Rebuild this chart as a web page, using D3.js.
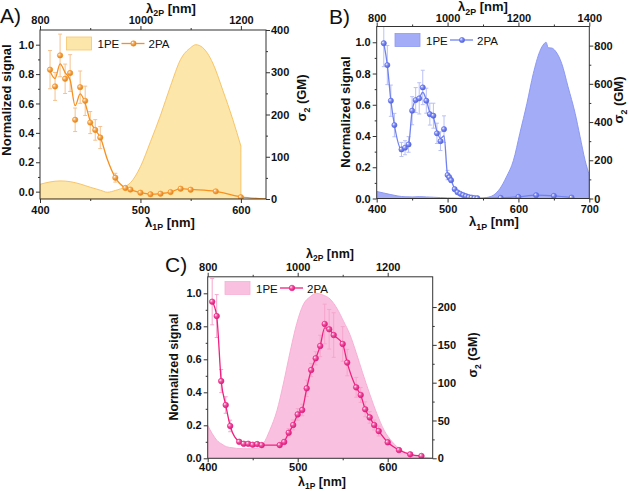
<!DOCTYPE html>
<html><head><meta charset="utf-8">
<script src="https://cdn.jsdelivr.net/npm/d3@7/dist/d3.min.js"></script>
<style>
body{margin:0;background:#fff}
svg{display:block}
text{font-family:"Liberation Sans",Arial,sans-serif;fill:#111}
</style>
</head><body>
<svg id="chart" width="629" height="491"></svg>
<script>
// ---------------- Panel A ----------------
const aPeX  = [400,410,420,430,440,450,460,467,475,485,490,500,510,520,530,540,550,555,562,572,582,592,600];
const aPeY  = [0.05,0.066,0.073,0.068,0.052,0.03,0.01,-0.004,0.008,0.035,0.06,0.17,0.34,0.52,0.72,0.90,0.98,1.0,0.98,0.875,0.69,0.49,0.31];
const a2paX = [410,415,420,425,430,435,440,445,450,455,460,475,485,490,500,510,520,530,540,550,575,600];
const a2paY = [0.83,0.716,0.927,0.768,0.807,0.489,0.711,0.618,0.47,0.42,0.368,0.095,0.025,0.014,-0.007,-0.018,-0.014,-0.003,0.02,0.013,0.002,-0.038];
const a2paErr = [0.13,0.095,0.145,0.1,0.125,0.08,0.11,0.1,0.075,0.07,0.075,0.03,0,0,0,0,0,0,0,0,0,0];
const aFitX = [410,415,420,425,430,435,440,445,450,455,460,467,475,485,490,500,510,520,530,540,550,575,600,625];
const aFitY = [0.82,0.77,0.87,0.81,0.76,0.585,0.665,0.6,0.48,0.42,0.37,0.22,0.095,0.025,0.014,-0.007,-0.017,-0.013,-0.003,0.02,0.015,0.002,-0.035,-0.05];
const aTicksBottom = [400,500,600], aMinorBottom = [450,550];
const aTicksTop = [800,1000,1200], aMinorTop = [900,1100];
const aTicksLeft = [0,0.2,0.4,0.6,0.8,1.0], aMinorLeft = [0.1,0.3,0.5,0.7,0.9];
const aTicksRight = [0,100,200,300,400], aMinorRight = [50,150,250,350];

// ---------------- Panel B ----------------
const bPeX  = [400,410,420,430,440,450,460,470,480,490,500,520,545,555,565,574,583,593,602,612,621,630,636,639,642,647,652,661,670,680,687,694,700];
const bPeY  = [0.045,0.035,0.025,0.016,0.011,0.01,0.012,0.01,0.008,0.006,0.004,0.002,0.0,0.006,0.022,0.064,0.138,0.245,0.417,0.609,0.80,0.94,0.99,1.0,0.965,0.963,0.945,0.865,0.715,0.545,0.395,0.245,0.15];
const b2paX = [410,415,420,425,435,440,445,450,455,460,465,470,475,480,485,490,495,500,502.5,505,510,514,518,522,526,530,534,538,542,575,600,625,650,675];
const b2paY = [0.994,0.854,0.626,0.47,0.314,0.325,0.346,0.562,0.63,0.641,0.711,0.626,0.54,0.53,0.417,0.367,0.444,0.15,0.135,0.117,0.06,0.04,0.03,0.022,0.015,0.009,0.006,0.003,0.002,0.004,0.01,0.021,0.017,0.006];
const b2paErr = [0.15,0.125,0.1,0.075,0.045,0.045,0.05,0.09,0.08,0.1,0.11,0.08,0.07,0.08,0.065,0.06,0.085,0.03,0.015,0.012,0.006,0,0,0,0,0,0,0,0,0,0,0,0,0];
const bFitX = [410,415,420,425,435,440,445,450,455,460,465,470,475,480,485,490,495,500,502.5,505,510,514,518,522,526,530,534,538,542,575,600,625,650,675];
const bFitY = [0.994,0.854,0.626,0.47,0.314,0.325,0.346,0.562,0.63,0.645,0.68,0.63,0.55,0.52,0.43,0.385,0.40,0.15,0.135,0.117,0.06,0.04,0.03,0.022,0.015,0.009,0.006,0.003,0.002,0.004,0.01,0.021,0.017,0.006];
const bTicksBottom = [400,500,600,700], bMinorBottom = [450,550,650];
const bTicksTop = [800,1000,1200,1400], bMinorTop = [900,1100,1300];
const bTicksLeft = [0,0.2,0.4,0.6,0.8,1.0], bMinorLeft = [0.1,0.3,0.5,0.7,0.9];
const bTicksRight = [0,200,400,600,800], bMinorRight = [100,300,500,700];

// ---------------- Panel C ----------------
const cPeX  = [400,405,410,416,421,427,432,440,448,455,462,469,477,484,492,499,506,514,521,528,536,544,551,558,565,572,580,588,596,605,615,625,637,650];
const cPeY  = [0.2,0.15,0.11,0.085,0.07,0.064,0.06,0.058,0.058,0.06,0.09,0.17,0.29,0.45,0.656,0.818,0.929,0.98,1.0,0.99,0.965,0.905,0.83,0.75,0.64,0.52,0.39,0.27,0.17,0.10,0.05,0.025,0.009,0.0];
const c2paX = [405,410,415,420,425,435,440,445,450,455,460,480,485,490,495,500,505,510,515,520,525,530,535,540,550,555,565,570,575,580,585,590,600,612.5,625,637.5];
const c2paY = [0.949,0.862,0.468,0.323,0.196,0.1,0.088,0.088,0.082,0.086,0.08,0.08,0.099,0.155,0.202,0.266,0.293,0.424,0.535,0.606,0.681,0.814,0.782,0.747,0.693,0.58,0.43,0.384,0.297,0.248,0.202,0.165,0.097,0.05,0.024,0.014];
const c2paErr = [0.14,0.13,0.07,0.05,0.035,0.01,0.01,0.01,0.01,0.01,0.01,0.01,0.015,0.025,0.03,0.035,0.035,0.05,0.04,0.04,0.065,0.12,0.12,0.135,0.105,0.08,0.06,0.045,0.045,0.035,0.03,0.03,0.015,0.01,0.005,0.005];
const cFitX = c2paX;
const cFitY = [0.949,0.862,0.468,0.323,0.196,0.1,0.088,0.088,0.082,0.086,0.08,0.08,0.099,0.155,0.202,0.266,0.293,0.424,0.535,0.606,0.681,0.79,0.782,0.747,0.693,0.58,0.43,0.384,0.297,0.248,0.202,0.165,0.097,0.05,0.024,0.014];
const cTicksBottom = [400,500,600], cMinorBottom = [450,550];
const cTicksTop = [800,1000,1200], cMinorTop = [900,1100];
const cTicksLeft = [0,0.2,0.4,0.6,0.8,1.0], cMinorLeft = [0.1,0.3,0.5,0.7,0.9];
const cTicksRight = [0,50,100,150,200], cMinorRight = [25,75,125,175];

const legendLabels = ["1PE", "2PA"];
const panelLetters = ["A)", "B)", "C)"];

// ---------------- drawing ----------------
const svg = d3.select("#chart");
const defs = svg.append("defs");
const zip = (xs, ys) => xs.map((v, i) => [v, ys[i]]);

function makeGrad(id, col) {
  const g = defs.append("radialGradient").attr("id", id).attr("cx", "40%").attr("cy", "40%").attr("r", "60%").attr("fx", "30%").attr("fy", "30%");
  g.append("stop").attr("offset", "0%").attr("stop-color", "#ffffff");
  g.append("stop").attr("offset", "45%").attr("stop-color", d3.interpolateRgb(col, "#fff")(0.25));
  g.append("stop").attr("offset", "100%").attr("stop-color", d3.color(col).darker(0.4));
}

function subText(t, parts, fs) {
  parts.forEach(([s, sub], i) => {
    const ts = t.append("tspan").text(s);
    if (sub) ts.attr("font-size", fs * 0.68).attr("dy", fs * 0.3);
    else if (i > 0 && parts[i - 1][1]) ts.attr("dy", -fs * 0.3);
  });
}

function drawPanel(p) {
  const g = svg.append("g");
  const x = d3.scaleLinear().domain(p.xDom).range([p.L, p.R]);
  const xTop = d3.scaleLinear().domain([p.xDom[0] * 2, p.xDom[1] * 2]).range([p.L, p.R]);
  const y = d3.scaleLinear().domain(p.yDom).range([p.B, p.T]);
  const yR = d3.scaleLinear().domain(p.yRDom).range([p.B, p.T]);
  const clipId = "clip" + p.id;
  defs.append("clipPath").attr("id", clipId).append("rect")
    .attr("x", p.L).attr("y", p.T).attr("width", p.R - p.L).attr("height", p.B - p.T);
  makeGrad("grad" + p.id, p.pointCol);

  const plot = g.append("g").attr("clip-path", `url(#${clipId})`);
  const area = d3.area().x(d => x(d[0])).y0(p.B).y1(d => y(d[1])).curve(d3.curveMonotoneX);
  plot.append("path").datum(zip(p.peX, p.peY)).attr("d", area)
    .attr("fill", p.fillCol).attr("stroke", p.fillStroke).attr("stroke-width", 1);

  const pts = p.sX.map((v, i) => ({x: v, y: p.sY[i], e: p.sE[i]}));
  const eb = plot.append("g").attr("stroke", p.errCol).attr("stroke-width", 1).attr("fill", "none");
  pts.filter(d => d.e > 0).forEach(d => {
    const cx = x(d.x), y1 = y(d.y - d.e), y2 = y(d.y + d.e);
    eb.append("line").attr("x1", cx).attr("x2", cx).attr("y1", y1).attr("y2", y2);
    eb.append("line").attr("x1", cx - 2).attr("x2", cx + 2).attr("y1", y1).attr("y2", y1);
    eb.append("line").attr("x1", cx - 2).attr("x2", cx + 2).attr("y1", y2).attr("y2", y2);
  });
  const line = d3.line().x(d => x(d[0])).y(d => y(d[1])).curve(d3.curveMonotoneX);
  plot.append("path").datum(zip(p.fX, p.fY)).attr("d", line)
    .attr("fill", "none").attr("stroke", p.lineCol).attr("stroke-width", 1.3);
  plot.selectAll("circle.pt").data(pts).join("circle").attr("class", "pt")
    .attr("cx", d => x(d.x)).attr("cy", d => y(d.y)).attr("r", p.r)
    .attr("fill", `url(#grad${p.id})`).attr("stroke", p.pointCol).attr("stroke-width", 0.6);

  const fs = 11;
  function axis(gen, scale, major, minor, tx, ty, pad, fmt) {
    const a = g.append("g").attr("transform", `translate(${tx},${ty})`)
      .call(gen(scale).tickValues(major).tickSize(4).tickPadding(pad).tickFormat(fmt));
    a.select(".domain").remove();
    a.selectAll("line").attr("stroke", "#333");
    a.selectAll("text").attr("font-size", fs).attr("font-weight", "bold").attr("fill", "#111")
      .attr("font-family", '"Liberation Sans",Arial,sans-serif');
    const m = g.append("g").attr("transform", `translate(${tx},${ty})`)
      .call(gen(scale).tickValues(minor).tickSize(2).tickFormat(""));
    m.select(".domain").remove();
    m.selectAll("line").attr("stroke", "#333");
  }
  axis(d3.axisBottom, x, p.tB, p.mB, 0, p.B, p.padB, d3.format("d"));
  axis(d3.axisTop, xTop, p.tT, p.mT, 0, p.T, p.padT, d3.format("d"));
  axis(d3.axisLeft, y, p.tL, p.mL, p.L, 0, 2, d3.format(".1f"));
  axis(d3.axisRight, yR, p.tR, p.mR, p.R, 0, 1, d3.format("d"));
  g.append("rect").attr("x", p.L).attr("y", p.T).attr("width", p.R - p.L).attr("height", p.B - p.T)
    .attr("fill", "none").attr("stroke", "#333").attr("stroke-width", 1);

  const tfs = p.tfs;
  subText(g.append("text").attr("x", p.bTitle[0]).attr("y", p.bTitle[1]).attr("text-anchor", "middle")
    .attr("font-size", tfs).attr("font-weight", "bold"), [["λ", 0], ["1P", 1], [" [nm]", 0]], tfs);
  subText(g.append("text").attr("x", p.tTitle[0]).attr("y", p.tTitle[1]).attr("text-anchor", "middle")
    .attr("font-size", tfs).attr("font-weight", "bold"), [["λ", 0], ["2P", 1], [" [nm]", 0]], tfs);
  g.append("text").attr("transform", `translate(${p.lTitle[0]},${p.lTitle[1]}) rotate(-90)`)
    .attr("text-anchor", "middle").attr("font-size", tfs).attr("font-weight", "bold").text("Normalized signal");
  subText(g.append("text").attr("transform", `translate(${p.rTitle[0]},${p.rTitle[1]}) rotate(-90)`)
    .attr("text-anchor", "middle").attr("font-size", tfs).attr("font-weight", "bold"),
    [["σ", 0], ["2", 1], [" (GM)", 0]], tfs);
  g.append("text").attr("x", p.letter[0]).attr("y", p.letter[1]).attr("font-size", 21).text(p.letterText);

  const lg = p.leg;
  g.append("rect").attr("x", lg.x).attr("y", lg.y).attr("width", 25).attr("height", 13)
    .attr("fill", p.fillCol).attr("stroke", p.fillStroke).attr("stroke-width", 0.8);
  g.append("text").attr("x", lg.x + 31).attr("y", lg.y + 11).attr("font-size", 11.5).text(legendLabels[0]);
  g.append("line").attr("x1", lg.x + 55).attr("x2", lg.x + 78).attr("y1", lg.y + 6.5).attr("y2", lg.y + 6.5)
    .attr("stroke", p.lineCol).attr("stroke-width", 1.3);
  g.append("circle").attr("cx", lg.x + 67).attr("cy", lg.y + 6.5).attr("r", p.r)
    .attr("fill", `url(#grad${p.id})`).attr("stroke", p.pointCol).attr("stroke-width", 0.6);
  g.append("text").attr("x", lg.x + 82).attr("y", lg.y + 11).attr("font-size", 11.5).text(legendLabels[1]);
}

drawPanel({
  id: "A", L: 40, R: 266, T: 30, B: 199,
  xDom: [400, 625], yDom: [-0.05, 1.1], yRDom: [0, 400],
  peX: aPeX, peY: aPeY, sX: a2paX, sY: a2paY, sE: a2paErr, fX: aFitX, fY: aFitY,
  tB: aTicksBottom, mB: aMinorBottom, tT: aTicksTop, mT: aMinorTop,
  tL: aTicksLeft, mL: aMinorLeft, tR: aTicksRight, mR: aMinorRight,
  padB: 3, padT: 2, tfs: 13,
  fillCol: "#fde6a9", fillStroke: "#f7c56a", lineCol: "#f7901e", pointCol: "#f7901e", errCol: "#f6c18d", r: 2.7,
  bTitle: [170, 226.5], tTitle: [171, 12.5], lTitle: [11, 100], rTitle: [306, 98],
  letter: [0, 23], letterText: panelLetters[0],
  leg: {x: 66.5, y: 37}
});

drawPanel({
  id: "B", L: 376.7, R: 589.3, T: 26.5, B: 198.5,
  xDom: [400, 700], yDom: [0, 1.101], yRDom: [0, 900],
  peX: bPeX, peY: bPeY, sX: b2paX, sY: b2paY, sE: b2paErr, fX: bFitX, fY: bFitY,
  tB: bTicksBottom, mB: bMinorBottom, tT: bTicksTop, mT: bMinorTop,
  tL: bTicksLeft, mL: bMinorLeft, tR: bTicksRight, mR: bMinorRight,
  padB: 3, padT: 1, tfs: 13,
  fillCol: "#a3acf6", fillStroke: "#8d99f2", lineCol: "#7082f0", pointCol: "#5b6cf0", errCol: "#b9c1f6", r: 2.6,
  bTitle: [494, 226], tTitle: [483, 11], lTitle: [350, 112], rTitle: [623, 100],
  letter: [329, 24], letterText: panelLetters[1],
  leg: {x: 395, y: 33.5}
});

drawPanel({
  id: "C", L: 207.7, R: 432.7, T: 276.8, B: 458.3,
  xDom: [400, 650], yDom: [0, 1.1], yRDom: [0, 240],
  peX: cPeX, peY: cPeY, sX: c2paX, sY: c2paY, sE: c2paErr, fX: cFitX, fY: cFitY,
  tB: cTicksBottom, mB: cMinorBottom, tT: cTicksTop, mT: cMinorTop,
  tL: cTicksLeft, mL: cMinorLeft, tR: cTicksRight, mR: cMinorRight,
  padB: 1, padT: 2, tfs: 12.5,
  fillCol: "#f9c0df", fillStroke: "#f7b0d5", lineCol: "#f0207f", pointCol: "#ee1f86", errCol: "#f5a6cc", r: 2.8,
  bTitle: [322, 485.5], tTitle: [330, 257.5], lTitle: [178, 367], rTitle: [477, 355],
  letter: [165, 272], letterText: panelLetters[2],
  leg: {x: 225, y: 281.5}
});
</script>
</body></html>
